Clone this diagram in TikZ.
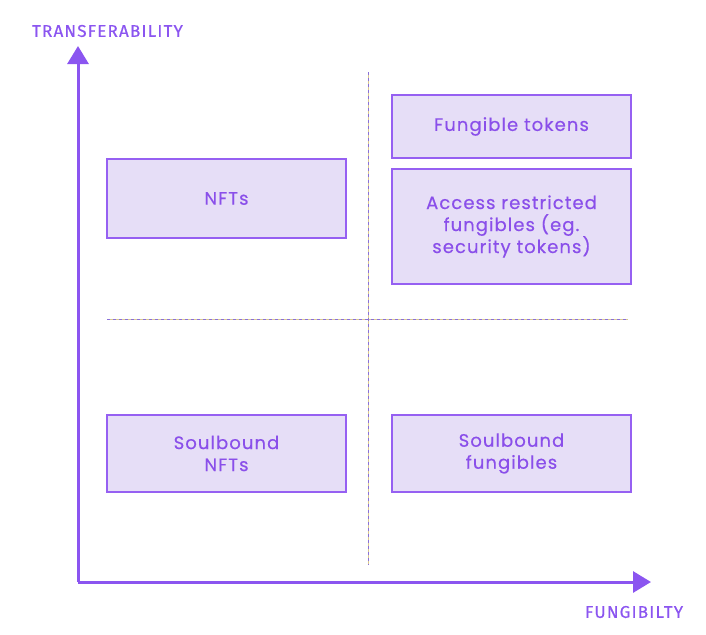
\documentclass[tikz,border=0pt]{standalone}
\usepackage{fontspec}
\setmainfont{Poppins}[LetterSpace=6,FakeBold=0.4]
\newfontfamily\axisfont{Fira Sans}[LetterSpace=7,FakeBold=0.6]
\usetikzlibrary{arrows.meta}
\definecolor{pborder}{HTML}{9660F2}
\definecolor{pfill}{HTML}{E6DEF7}
\definecolor{ptext}{HTML}{8A4FEA}
\definecolor{paxis}{HTML}{8B55F0}
\definecolor{pgold}{HTML}{D8C890}
\definecolor{pdash}{HTML}{8A70D8}
\tikzset{
  cell/.style={draw=pborder, line width=2.2pt, fill=pfill, text=ptext, align=center,
    font=\fontsize{18}{22}\selectfont, inner sep=0pt},
  axisline/.style={draw=paxis, line width=3pt, -{Triangle[length=18pt,width=21pt]}},
  axislabel/.style={text=paxis, font=\axisfont\fontsize{17}{20}\selectfont},
  guide/.style={draw=pgold, line width=0.8pt},
  guidedash/.style={draw=pdash, line width=0.8pt, dash pattern=on 3pt off 3pt},
}
\begin{document}
\begin{tikzpicture}[x=1pt,y=-1pt]
\useasboundingbox (0,0) rectangle (706,634);
\coordinate (o) at (78,582);
\coordinate (ytip) at (78,46);
\coordinate (xtip) at (651,582);
\coordinate (vt) at (368,72);
\coordinate (vb) at (368,565);
\coordinate (hl) at (107,319);
\coordinate (hr) at (628,319);
\draw[guide] (vt) -- (vb);
\draw[guide] (hl) -- (hr);
\draw[guidedash] (vt) -- (vb);
\draw[guidedash] (hl) -- (hr);
\draw[axisline] (o) -- (ytip);
\draw[axisline] (o) -- (xtip);
\node[axislabel] (ylab) at (107.5,31) {TRANSFERABILITY};
\node[axislabel] (xlab) at (634,612) {FUNGIBILTY};
\node[cell, minimum width=239pt, minimum height=79pt] (nft) at (226.5,198.5) {NFTs};
\node[cell, minimum width=239pt, minimum height=63pt] (fung) at (511.5,126.5) {Fungible tokens};
\node[cell, minimum width=239pt, minimum height=115pt] (acc) at (511.5,226.5) {Access restricted\\fungibles (eg.\\security tokens)};
\node[cell, minimum width=239pt, minimum height=77pt] (snft) at (226.5,453.5) {Soulbound\\NFTs};
\node[cell, minimum width=239pt, minimum height=77pt] (sfung) at (511.5,453.5) {Soulbound\\fungibles};
\end{tikzpicture}
\end{document}
